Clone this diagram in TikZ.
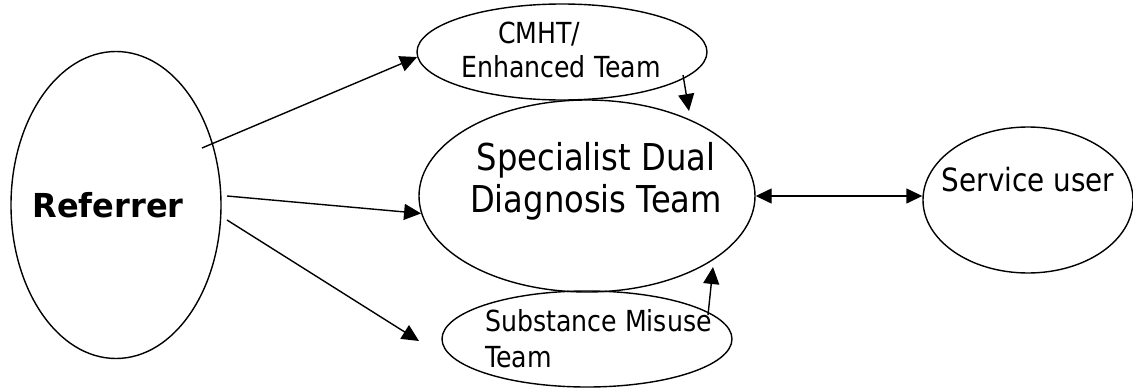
\documentclass[tikz,border=0pt]{standalone}
\usepackage{fontspec}
\setmainfont[FakeStretch=0.87]{DejaVu Sans}
\newfontfamily\refbold[FakeStretch=0.97]{DejaVu Sans}
\usetikzlibrary{arrows.meta,shapes.geometric}
\begin{document}
\begin{tikzpicture}[x=1pt,y=-1pt,
  ell/.style={draw, ellipse, line width=1.4pt, inner sep=0pt},
  lbl/.style={inner sep=0pt, anchor=base west},
  conn/.style={line width=1.4pt, -{Triangle[length=17pt,width=16pt]}},
  biconn/.style={line width=1.4pt, {Triangle[length=16pt,width=15pt]}-{Triangle[length=16pt,width=15pt]}}]
\useasboundingbox (0,0) rectangle (1133,388);
% ellipses
\node[ell, minimum width=210pt, minimum height=307pt] (ref) at (116,205) {};
\node[ell, minimum width=290pt, minimum height=96pt] (cmht) at (562,52) {};
\node[ell, minimum width=336pt, minimum height=192pt] (sddt) at (587,196) {};
\node[ell, minimum width=290pt, minimum height=96pt] (sm) at (587,339) {};
\node[ell, minimum width=210pt, minimum height=146pt] (su) at (1028,200) {};
% texts
\node[inner sep=0pt, anchor=base, font=\refbold\bfseries\fontsize{33}{38}\selectfont] (reft) at (108,217) {Referrer};
\node[lbl, font=\fontsize{29}{35}\selectfont] (cmht1) at (498,43) {CMHT/};
\node[lbl, font=\fontsize{29}{35}\selectfont] (cmht2) at (461,77) {Enhanced Team};
\node[inner sep=0pt, anchor=base, font=\fontsize{37}{42}\selectfont] (sddt1) at (596,170) {Specialist Dual};
\node[inner sep=0pt, anchor=base, font=\fontsize{37}{42}\selectfont] (sddt2) at (596,212) {Diagnosis Team};
\node[lbl, font=\fontsize{29}{35}\selectfont] (sm1) at (485,331) {Substance Misuse};
\node[lbl, font=\fontsize{29}{35}\selectfont] (sm2) at (485,367) {Team};
\node[inner sep=0pt, anchor=base, font=\fontsize{32}{38}\selectfont] (sut) at (1028,191) {Service user};
% connectors
\coordinate (a1s) at (202,148);
\coordinate (a2s) at (227,196);
\coordinate (a3s) at (227,220);
\coordinate (a3e) at (419,341);
\coordinate (a4s) at (683,75);
\coordinate (a4e) at (689,111);
\coordinate (a5s) at (708,315);
\coordinate (a5e) at (713,267);
\draw[conn] (a1s) -- (cmht.182);
\draw[conn] (a2s) -- (sddt.186);
\draw[conn] (a3s) -- (a3e);
\draw[conn] (a4s) -- (a4e);
\draw[conn] (a5s) -- (a5e);
\draw[biconn] (sddt.east) -- (sddt.east -| su.west);
\end{tikzpicture}
\end{document}
